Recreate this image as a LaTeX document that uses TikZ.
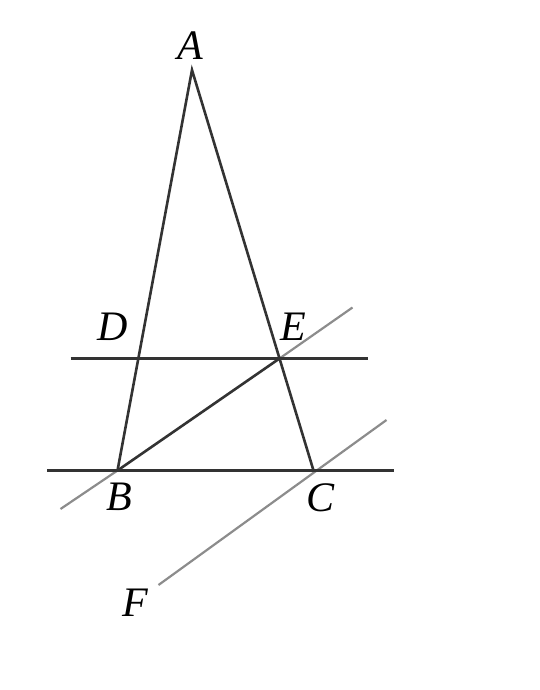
\documentclass[tikz,border=0pt]{standalone}
\usepackage{fontspec}
\setmainfont{Liberation Serif}
\usetikzlibrary{calc}
\begin{document}
\begin{tikzpicture}[x=0.5pt,y=-0.5pt,
  main/.style={draw=black!80,line width=1.3pt},
  aux/.style={draw=black!45,line width=1.1pt},
  lab/.style={font=\fontsize{21}{21}\selectfont\itshape,inner sep=0pt}]
\useasboundingbox (0,0) rectangle (540,690);
% points
\coordinate (A) at (192,70);
\coordinate (B) at (117.5,470.5);
\coordinate (C) at (313.5,470.5);
\coordinate (E) at (279.5,358.5);
\coordinate (DL) at (70.5,358.5);
\coordinate (DR) at (367.5,358.5);
\coordinate (BCL) at (47,470.5);
\coordinate (BCR) at (394,470.5);
\coordinate (BEL) at (60.5,509);
\coordinate (BER) at (352.5,307.5);
\coordinate (CFU) at (386.5,420);
\coordinate (CFL) at (158.5,585);
% auxiliary gray lines
\draw[aux] (BEL) -- (B);
\draw[aux] (E) -- (BER);
\draw[aux] (CFL) -- (CFU);
% main lines
\draw[main] (B) -- (A) -- (C);
\draw[main] (DL) -- (DR);
\draw[main] (BCL) -- (BCR);
\draw[main] (B) -- (E);
% labels
\node[lab] (lA) at (190,46) {A};
\node[lab] (lD) at (113,327) {D};
\node[lab] (lE) at (293,327) {E};
\node[lab] (lB) at (119,497) {B};
\node[lab] (lC) at (321,498) {C};
\node[lab] (lF) at (135,603) {F};
\end{tikzpicture}
\end{document}
